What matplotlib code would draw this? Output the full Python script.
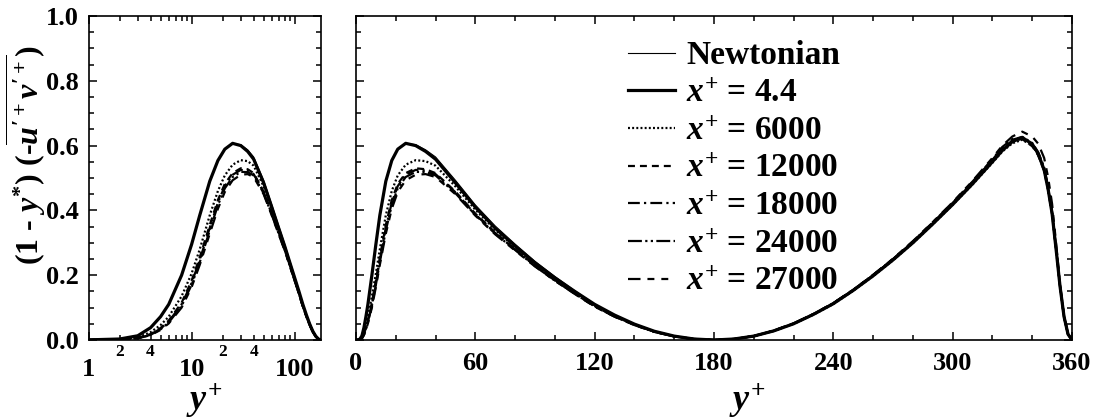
import matplotlib
matplotlib.use('Agg')
import matplotlib.pyplot as plt
from matplotlib.ticker import FixedLocator, FixedFormatter, MultipleLocator, NullFormatter

plt.rcParams['font.family'] = 'Liberation Serif'
plt.rcParams['font.weight'] = 'bold'
plt.rcParams['mathtext.fontset'] = 'custom'
plt.rcParams['mathtext.rm'] = 'Liberation Serif:bold'
plt.rcParams['mathtext.it'] = 'Liberation Serif:italic:bold'
plt.rcParams['mathtext.bf'] = 'Liberation Serif:bold'
plt.rcParams['lines.scale_dashes'] = False

# wall-normal positions, lower half (0..180) and upper half (180..360)
yp_lo = [0, 1, 2, 3, 4, 5, 6, 8, 10, 12, 15, 18, 21, 25, 30, 35, 40, 50, 60, 70,
         80, 90, 100, 110, 120, 130, 140, 150, 160, 170, 180]
yp_up = [180, 190, 200, 210, 220, 230, 240, 250, 260, 270, 280, 290, 300, 310, 320,
         325, 330, 335, 340, 343, 346, 348, 350, 352, 354, 356, 358, 360]

newt_lo = [0, 0.0004, 0.003, 0.013, 0.038, 0.072, 0.110, 0.200, 0.295, 0.385, 0.490, 0.554,
           0.589, 0.606, 0.603, 0.587, 0.565, 0.493, 0.417, 0.352, 0.296, 0.243, 0.196,
           0.152, 0.111, 0.077, 0.049, 0.027, 0.012, 0.003, 0]
x44_lo = [0, 0.0004, 0.003, 0.013, 0.038, 0.072, 0.110, 0.200, 0.295, 0.385, 0.490, 0.554,
          0.589, 0.607, 0.600, 0.582, 0.558, 0.485, 0.410, 0.345, 0.290, 0.238, 0.192,
          0.150, 0.110, 0.077, 0.049, 0.027, 0.012, 0.003, 0]
x6000_lo = [0, 0.0003, 0.002, 0.008, 0.024, 0.046, 0.072, 0.135, 0.205, 0.280, 0.385, 0.460,
            0.508, 0.541, 0.555, 0.552, 0.538, 0.474, 0.402, 0.340, 0.286, 0.234, 0.189,
            0.147, 0.107, 0.075, 0.048, 0.026, 0.011, 0.003, 0]
x12000_lo = [0, 0.0002, 0.0015, 0.006, 0.018, 0.037, 0.060, 0.115, 0.183, 0.255, 0.355, 0.432,
             0.482, 0.515, 0.530, 0.527, 0.515, 0.458, 0.390, 0.332, 0.280, 0.230, 0.185,
             0.144, 0.105, 0.073, 0.047, 0.026, 0.011, 0.003, 0]
x18000_lo = [0, 0.0002, 0.0014, 0.006, 0.017, 0.035, 0.057, 0.110, 0.176, 0.247, 0.346, 0.424,
             0.475, 0.510, 0.525, 0.523, 0.512, 0.456, 0.388, 0.330, 0.279, 0.229, 0.184,
             0.143, 0.104, 0.073, 0.047, 0.026, 0.011, 0.003, 0]
x24000_lo = [0, 0.0002, 0.0013, 0.005, 0.016, 0.033, 0.054, 0.105, 0.170, 0.240, 0.338, 0.416,
             0.468, 0.503, 0.519, 0.518, 0.508, 0.453, 0.386, 0.328, 0.278, 0.228, 0.183,
             0.143, 0.104, 0.072, 0.046, 0.025, 0.011, 0.003, 0]
x27000_lo = [0, 0.0002, 0.0012, 0.005, 0.015, 0.031, 0.051, 0.100, 0.163, 0.232, 0.328, 0.405,
             0.457, 0.493, 0.510, 0.512, 0.503, 0.450, 0.384, 0.326, 0.276, 0.227, 0.183,
             0.142, 0.103, 0.072, 0.046, 0.025, 0.011, 0.003, 0]

newt_up = [0, 0.003, 0.012, 0.029, 0.052, 0.081, 0.115, 0.156, 0.202, 0.251, 0.305, 0.363,
           0.423, 0.487, 0.554, 0.588, 0.614, 0.626, 0.606, 0.577, 0.528, 0.467, 0.392,
           0.282, 0.166, 0.072, 0.018, 0]
x44_up = [0, 0.003, 0.012, 0.028, 0.050, 0.079, 0.112, 0.153, 0.198, 0.247, 0.300, 0.358,
          0.418, 0.482, 0.550, 0.585, 0.612, 0.625, 0.605, 0.575, 0.525, 0.465, 0.390,
          0.280, 0.165, 0.072, 0.018, 0]
x6000_up = [0, 0.003, 0.012, 0.028, 0.050, 0.078, 0.111, 0.152, 0.197, 0.246, 0.299, 0.357,
            0.417, 0.480, 0.547, 0.582, 0.607, 0.618, 0.600, 0.572, 0.524, 0.465, 0.390,
            0.281, 0.166, 0.072, 0.018, 0]
x12000_up = [0, 0.003, 0.012, 0.028, 0.051, 0.080, 0.113, 0.154, 0.200, 0.249, 0.303, 0.362,
             0.423, 0.488, 0.556, 0.592, 0.615, 0.620, 0.598, 0.570, 0.522, 0.463, 0.388,
             0.280, 0.165, 0.071, 0.018, 0]
x18000_up = [0, 0.003, 0.012, 0.029, 0.051, 0.080, 0.114, 0.155, 0.201, 0.250, 0.304, 0.363,
             0.424, 0.489, 0.558, 0.596, 0.620, 0.625, 0.603, 0.576, 0.528, 0.468, 0.392,
             0.282, 0.166, 0.072, 0.018, 0]
x24000_up = [0, 0.003, 0.012, 0.028, 0.050, 0.079, 0.112, 0.153, 0.199, 0.248, 0.302, 0.360,
             0.421, 0.486, 0.555, 0.593, 0.618, 0.627, 0.608, 0.580, 0.533, 0.472, 0.395,
             0.284, 0.168, 0.073, 0.018, 0]
x27000_up = [0, 0.003, 0.012, 0.029, 0.051, 0.080, 0.114, 0.155, 0.201, 0.251, 0.305, 0.364,
             0.425, 0.491, 0.562, 0.600, 0.628, 0.643, 0.628, 0.606, 0.562, 0.502, 0.420,
             0.300, 0.172, 0.074, 0.018, 0]

labels = ['Newtonian', r'$x^{+}$ = 4.4', r'$x^{+}$ = 6000', r'$x^{+}$ = 12000',
          r'$x^{+}$ = 18000', r'$x^{+}$ = 24000', r'$x^{+}$ = 27000']
lows = [newt_lo, x44_lo, x6000_lo, x12000_lo, x18000_lo, x24000_lo, x27000_lo]
ups = [newt_up, x44_up, x6000_up, x12000_up, x18000_up, x24000_up, x27000_up]
widths = [0.8, 2.3, 1.6, 1.6, 1.6, 1.6, 1.6]
styles = ['-', '-', (0, (1.4, 1.6)), (0, (5, 3.6)), (0, (8.5, 3, 1.6, 3)),
          (0, (10, 2.4, 1.6, 2.4, 1.6, 2.4)), (0, (9, 5, 5, 5, 5, 5))]

fig = plt.figure(figsize=(10.97, 4.2), dpi=100)
ax1 = fig.add_axes([0.0807, 0.1905, 0.2119, 0.7714])
ax2 = fig.add_axes([0.3245, 0.1905, 0.6527, 0.7714])

for lo, up, lab, lw, ls in zip(lows, ups, labels, widths, styles):
    ax1.plot(yp_lo[1:], lo[1:], color='black', lw=lw, ls=ls)
    ax2.plot(yp_lo + yp_up[1:], lo + up[1:], color='black', lw=lw, ls=ls, label=lab)

for ax in (ax1, ax2):
    ax.set_ylim(0, 1.0)
    ax.yaxis.set_major_locator(MultipleLocator(0.2))
    ax.yaxis.set_minor_locator(MultipleLocator(0.05))
    ax.tick_params(which='both', direction='in', top=True, right=True, width=1.1)
    ax.tick_params(which='major', length=6)
    ax.tick_params(which='minor', length=3.6)
    ax.tick_params(axis='y', labelsize=19, pad=7)
    for sp in ax.spines.values():
        sp.set_linewidth(1.2)

# left: near-wall region on a log axis
ax1.set_xscale('log')
ax1.set_xlim(1, 180)
ax1.xaxis.set_major_locator(FixedLocator([1, 10, 100]))
ax1.xaxis.set_major_formatter(FixedFormatter(['1', '10', '100']))
minor_pos = [2, 3, 4, 5, 6, 7, 8, 9, 20, 30, 40, 50, 60, 70, 80, 90]
minor_lab = ['2', '', '4', '', '', '', '', '', '2', '', '4', '', '', '', '', '']
ax1.xaxis.set_minor_locator(FixedLocator(minor_pos))
ax1.xaxis.set_minor_formatter(FixedFormatter(minor_lab))
ax1.tick_params(axis='x', which='major', labelsize=19, pad=13)
ax1.tick_params(axis='x', which='minor', labelsize=12.5, pad=3)
ax1.set_yticks([0, 0.2, 0.4, 0.6, 0.8, 1.0])
ax1.set_yticklabels(['0.0', '0.2', '0.4', '0.6', '0.8', '1.0'])

# right: full channel height
ax2.set_xlim(0, 360)
ax2.xaxis.set_major_locator(MultipleLocator(60))
ax2.xaxis.set_minor_locator(MultipleLocator(20))
ax2.tick_params(axis='x', labelsize=19, pad=9)
ax2.yaxis.set_major_formatter(NullFormatter())

ax2.legend(loc='upper left', bbox_to_anchor=(0.38, 0.925), frameon=False,
           fontsize=24, handlelength=1.4, handletextpad=0.35, labelspacing=0.2,
           borderpad=0, borderaxespad=0)

fig.text(0.024, 0.63, r'(1 - $y^{*}$) (-$\overline{u^{\prime +} v^{\prime +}}$)',
         rotation=90, ha='center', va='center', fontsize=23)
fig.text(0.186, 0.021, r'$y^{+}$', ha='center', va='baseline', fontsize=26)
fig.text(0.681, 0.021, r'$y^{+}$', ha='center', va='baseline', fontsize=26)

fig.savefig('out.png', dpi=100)
